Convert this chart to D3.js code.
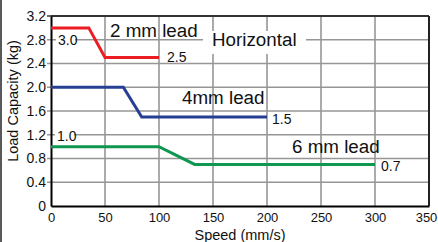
<!DOCTYPE html>
<html><head><meta charset="utf-8">
<script src="https://cdn.jsdelivr.net/npm/d3@7"></script>
<style>
body{margin:0;background:#fff;}
svg{display:block;}
text{font-family:"Liberation Sans",Arial,Helvetica,sans-serif;fill:#111;}
.narrow{font-family:"Liberation Sans Narrow","Arial Narrow","Liberation Sans",sans-serif;}
</style></head><body>
<svg id="c" width="438" height="242"></svg>
<script>
// ---- data ----
const xTicks = [0, 50, 100, 150, 200, 250, 300, 350];
const yTicks = [0, 0.4, 0.8, 1.2, 1.6, 2.0, 2.4, 2.8, 3.2];
const yTickLabels = ["0", "0.4", "0.8", "1.2", "1.6", "2.0", "2.4", "2.8", "3.2"];
const lead2Speed = [0, 35, 50, 100];
const lead2Load = [3.0, 3.0, 2.5, 2.5];
const lead4Speed = [0, 67, 84, 200];
const lead4Load = [2.0, 2.0, 1.5, 1.5];
const lead6Speed = [0, 100, 133, 300];
const lead6Load = [1.0, 1.0, 0.7, 0.7];
const seriesNames = ["2 mm lead", "4mm lead", "6 mm lead"];
const seriesColors = ["#ec1c24", "#263f93", "#0f9651"];

const svg = d3.select("#c");
const W = 438, H = 242;
const x = d3.scaleLinear().domain([0, 350]).range([51, 429]);
const y = d3.scaleLinear().domain([0, 3.2]).range([206, 16]);

// outer frame left edge
svg.append("line").attr("x1", 1).attr("x2", 1).attr("y1", 0).attr("y2", H)
  .attr("stroke", "#222").attr("stroke-width", 1.5);

// gridlines
const grid = svg.append("g");
grid.selectAll(".hg").data(yTicks.filter(v => v > 0 && v < 3.2)).enter().append("line")
  .attr("x1", x(0) - 4).attr("x2", x(350)).attr("y1", d => y(d)).attr("y2", d => y(d))
  .attr("stroke", "#969696").attr("stroke-width", 1.6);
grid.selectAll(".vg").data(xTicks.filter(v => v > 0 && v < 350)).enter().append("line")
  .attr("x1", d => x(d)).attr("x2", d => x(d)).attr("y1", y(3.2)).attr("y2", y(0))
  .attr("stroke", "#969696").attr("stroke-width", 1.6);
svg.append("line").attr("x1", x(0) - 4).attr("x2", x(0)).attr("y1", y(3.2)).attr("y2", y(3.2))
  .attr("stroke", "#444").attr("stroke-width", 1.6);

// "Horizontal" box
svg.append("rect").attr("x", 203).attr("y", 31).attr("width", 103).attr("height", 23).attr("fill", "#fff");
svg.append("text").attr("x", 212).attr("y", 46).attr("font-size", 18.8).text("Horizontal");

// plot border (top/right)
svg.append("line").attr("x1", x(0)).attr("x2", x(350)).attr("y1", y(3.2)).attr("y2", y(3.2))
  .attr("stroke", "#333").attr("stroke-width", 2);
svg.append("line").attr("x1", x(350)).attr("x2", x(350)).attr("y1", y(3.2)).attr("y2", y(0))
  .attr("stroke", "#222").attr("stroke-width", 2);

// axes
const yAxis = d3.axisLeft(y).tickValues(yTicks).tickFormat((d, i) => yTickLabels[i]).tickSize(0).tickPadding(5);
const gy = svg.append("g").attr("transform", `translate(${x(0)},0)`).call(yAxis);
gy.select(".domain").attr("stroke", "#000").attr("stroke-width", 2);
gy.selectAll("text").attr("class", "narrow").attr("font-size", 14).attr("fill", "#111")
  .attr("font-family", null);
const xAxis = d3.axisBottom(x).tickValues(xTicks).tickSize(0).tickPadding(7);
const gx = svg.append("g").attr("transform", `translate(0,${y(0)})`).call(xAxis);
gx.select(".domain").attr("stroke", "#000").attr("stroke-width", 2);
gx.selectAll("text").attr("font-size", 13).attr("fill", "#111").attr("font-family", null)
  .attr("dx", d => d === 350 ? -3 : 0);

// series
const line = d3.line().x(d => x(d[0])).y(d => y(d[1]));
const series = [
  d3.zip(lead2Speed, lead2Load),
  d3.zip(lead4Speed, lead4Load),
  d3.zip(lead6Speed, lead6Load)
];
series.forEach((s, i) => {
  svg.append("path").datum(s).attr("d", line).attr("fill", "none")
    .attr("stroke", seriesColors[i]).attr("stroke-width", 3).attr("stroke-linejoin", "miter");
});

// value labels
function valLabel(tx, ty, txt, box) {
  if (box) {
    svg.append("rect").attr("x", tx - 2).attr("y", ty - 6).attr("width", 19).attr("height", 12).attr("fill", "#fff");
  }
  svg.append("text").attr("class", "narrow").attr("x", tx).attr("y", ty).attr("dy", "0.36em")
    .attr("font-size", 14).text(txt);
}
valLabel(58, y(2.8), lead2Load[0].toFixed(1), true);
valLabel(57, y(1.2) + 1, lead6Load[0].toFixed(1), true);
valLabel(x(lead2Speed[3]) + 8, y(lead2Load[3]) - 1, lead2Load[3].toFixed(1), false);
valLabel(x(lead4Speed[3]) + 5, y(lead4Load[3]) + 2, lead4Load[3].toFixed(1), false);
valLabel(x(lead6Speed[3]) + 6, y(lead6Load[3]) + 2, lead6Load[3].toFixed(1), false);

// series names
svg.append("text").attr("x", 110).attr("y", 37).attr("font-size", 18.8).text(seriesNames[0]);
svg.append("text").attr("x", 182).attr("y", 104).attr("font-size", 18.8).text(seriesNames[1]);
svg.append("text").attr("x", 292).attr("y", 153).attr("font-size", 18.8).text(seriesNames[2]);

// axis titles
svg.append("text").attr("x", 240).attr("y", 240).attr("text-anchor", "middle").attr("font-size", 14.5).text("Speed (mm/s)");
svg.append("text").attr("transform", "translate(18,101) rotate(-90)").attr("text-anchor", "middle")
  .attr("font-size", 14.5).text("Load Capacity (kg)");
</script>
</body></html>
